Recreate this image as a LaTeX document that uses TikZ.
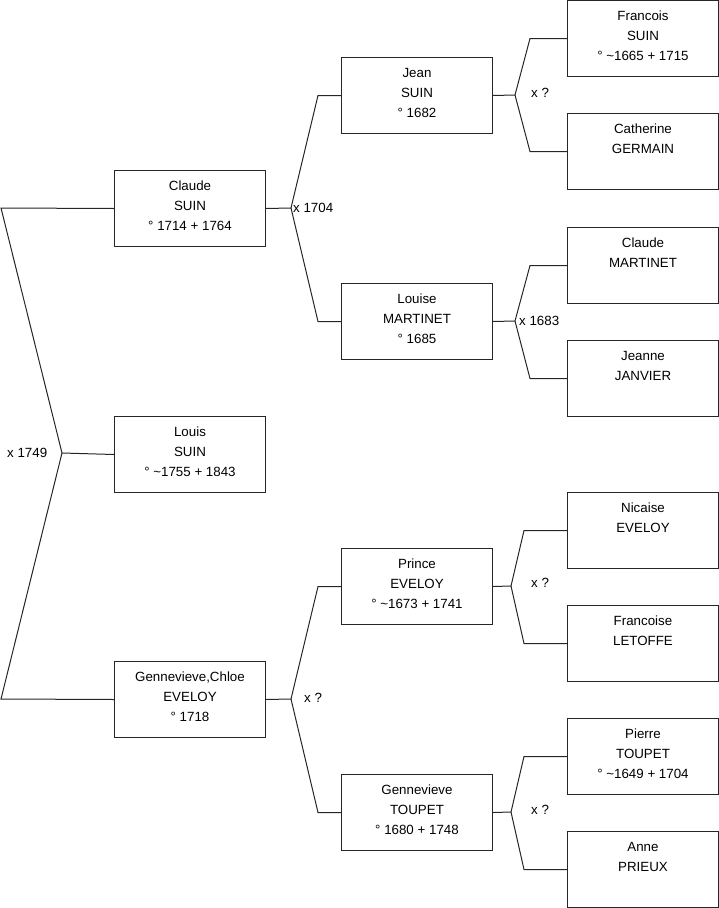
\documentclass[tikz,border=0pt]{standalone}
\usepackage{fontspec}
\setmainfont{Liberation Sans}
\usetikzlibrary{calc}
\begin{document}
\begin{tikzpicture}[x=1pt,y=-1pt,
  person/.style={draw=black!85, line width=1pt, rectangle, anchor=north west,
    minimum width=151pt, minimum height=76pt, inner sep=0pt, align=center,
    font=\fontsize{13.33}{20}\selectfont},
  link/.style={draw=black!85, line width=1pt},
  marr/.style={font=\fontsize{13.33}{16}\selectfont, inner sep=0pt}]
\useasboundingbox (0,0) rectangle (719,908);
% generation 1
\node[person] (claude) at (114,170) {Claude\\SUIN\\° 1714 + 1764\strut};
\node[person] (louis) at (114,416) {Louis\\SUIN\\° \textasciitilde1755 + 1843\strut};
\node[person] (genc) at (114,661) {Gennevieve,Chloe\\EVELOY\\° 1718\strut};
% generation 2
\node[person] (jean) at (341,57) {Jean\\SUIN\\° 1682\strut};
\node[person] (louise) at (341,283) {Louise\\MARTINET\\° 1685\strut};
\node[person] (prince) at (341,548) {Prince\\EVELOY\\° \textasciitilde1673 + 1741\strut};
\node[person] (gent) at (341,774) {Gennevieve\\TOUPET\\° 1680 + 1748\strut};
% generation 3
\node[person] (francois) at (567,0) {Francois\\SUIN\\° \textasciitilde1665 + 1715\strut};
\node[person] (catherine) at (567,113) {Catherine\\GERMAIN\\\strut};
\node[person] (claudem) at (567,227) {Claude\\MARTINET\\\strut};
\node[person] (jeanne) at (567,340) {Jeanne\\JANVIER\\\strut};
\node[person] (nicaise) at (567,492) {Nicaise\\EVELOY\\\strut};
\node[person] (francoise) at (567,605) {Francoise\\LETOFFE\\\strut};
\node[person] (pierre) at (567,718) {Pierre\\TOUPET\\° \textasciitilde1649 + 1704\strut};
\node[person] (anne) at (567,831) {Anne\\PRIEUX\\\strut};
% root connectors
\coordinate (v0) at (62,453);
\coordinate (c0a) at (1,208);
\coordinate (c0b) at (1,699);
\draw[link] (claude.west) -- (c0a) -- (v0) -- (c0b) -- (genc.west);
\draw[link] (v0) -- (louis.west);
\node[marr, anchor=west] (m0) at (7,453) {x 1749};
% Claude
\coordinate (v1) at (291,208);
\draw[link] (claude.east) -- (v1) -- ($(jean.west)+(-23,0)$) -- (jean.west);
\draw[link] (v1) -- ($(louise.west)+(-23,0)$) -- (louise.west);
\node[marr, anchor=west] (m1) at (293,208) {x 1704};
% Gennevieve Chloe
\coordinate (v2) at (291,699);
\draw[link] (genc.east) -- (v2) -- ($(prince.west)+(-23,0)$) -- (prince.west);
\draw[link] (v2) -- ($(gent.west)+(-23,0)$) -- (gent.west);
\node[marr, anchor=west] (m2) at (304,698) {x ?};
% Jean
\coordinate (v3) at (515,95);
\draw[link] (jean.east) -- (v3) -- ($(francois.west)+(-37,0)$) -- (francois.west);
\draw[link] (v3) -- ($(catherine.west)+(-37,0)$) -- (catherine.west);
\node[marr, anchor=west] (m3) at (531,93) {x ?};
% Louise
\coordinate (v4) at (515,321);
\draw[link] (louise.east) -- (v4) -- ($(claudem.west)+(-37,0)$) -- (claudem.west);
\draw[link] (v4) -- ($(jeanne.west)+(-37,0)$) -- (jeanne.west);
\node[marr, anchor=west] (m4) at (519,321) {x 1683};
% Prince
\coordinate (v5) at (511,586);
\draw[link] (prince.east) -- (v5) -- ($(nicaise.west)+(-43,0)$) -- (nicaise.west);
\draw[link] (v5) -- ($(francoise.west)+(-43,0)$) -- (francoise.west);
\node[marr, anchor=west] (m5) at (531,583) {x ?};
% Gennevieve Toupet
\coordinate (v6) at (511,812);
\draw[link] (gent.east) -- (v6) -- ($(pierre.west)+(-43,0)$) -- (pierre.west);
\draw[link] (v6) -- ($(anne.west)+(-43,0)$) -- (anne.west);
\node[marr, anchor=west] (m6) at (531,810) {x ?};
\end{tikzpicture}
\end{document}
